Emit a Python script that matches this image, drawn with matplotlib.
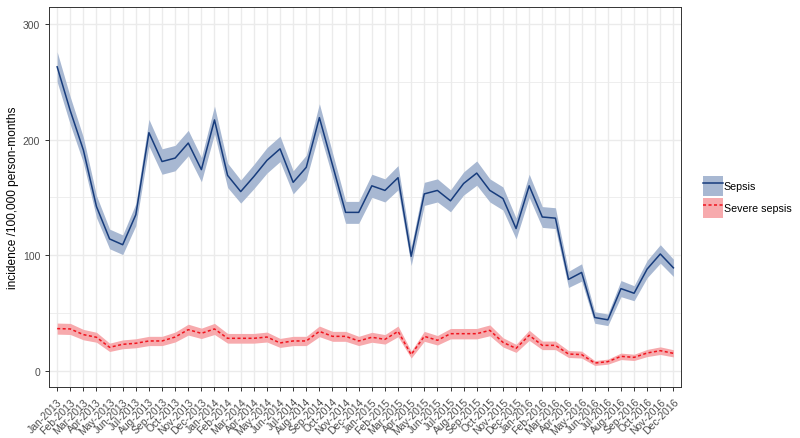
#!/usr/bin/env python3
"""
Monthly incidence of sepsis and severe sepsis, Jan-2013 to Dec-2016.
Line with confidence ribbon per series, ggplot theme_bw look.
"""

import matplotlib
matplotlib.use('Agg')
import matplotlib.pyplot as plt
from matplotlib.lines import Line2D
from matplotlib.patches import Patch
import numpy as np

# Tick labels: one per month
MONTHS = ['Jan', 'Feb', 'Mar', 'Apr', 'May', 'Jun',
          'Jul', 'Aug', 'Sep', 'Oct', 'Nov', 'Dec']
YEARS = [2013, 2014, 2015, 2016]
month_labels = [f'{m}-{y}' for y in YEARS for m in MONTHS]

# Sepsis incidence (per 100,000 person-months) and ribbon half-width
sepsis = [263, 225, 191, 142, 114, 109, 135, 206, 181, 184, 197, 174,
          217, 169, 155, 168, 182, 192, 163, 176, 219, 178, 137, 137,
          160, 156, 167, 99, 153, 156, 147, 162, 171, 156, 149, 123,
          160, 133, 132, 79, 85, 46, 44, 71, 67, 88, 101, 89]
sepsis_hw = [13, 12, 11, 9.5, 8.5, 8.5, 9.5, 11.5, 11, 11, 11, 10.5,
             12, 10.5, 10, 10.5, 11, 11, 10, 10.5, 12, 10.5, 9.5, 9.5,
             10, 10, 10.5, 8, 10, 10, 9.5, 10, 10.5, 10, 10, 9,
             10, 9, 9, 7, 7.5, 5, 5, 7, 6.5, 7.5, 8, 7.5]

# Severe sepsis incidence and ribbon half-width
severe = [36.4, 36.1, 31.2, 28.9, 20.2, 22.8, 23.7, 25.7, 25.7, 29.1, 35.5, 32.3,
          36.1, 28.0, 28.0, 28.0, 29.1, 24.0, 25.7, 25.7, 34.0, 29.7, 29.7, 25.7,
          28.9, 27.1, 34.0, 13.9, 29.7, 26.3, 32.0, 32.0, 32.0, 34.9, 24.5, 19.3,
          30.6, 21.9, 21.9, 14.4, 13.9, 6.6, 7.8, 12.4, 11.5, 15.3, 17.3, 15.0]
severe_hw = [4.8, 4.8, 4.5, 4.3, 3.6, 3.8, 3.9, 4, 4, 4.3, 4.7, 4.5,
             4.8, 4.2, 4.2, 4.2, 4.3, 3.9, 4, 4, 4.6, 4.3, 4.3, 4,
             4.3, 4.1, 4.6, 3, 4.3, 4.1, 4.5, 4.5, 4.5, 4.7, 4, 3.5,
             4.4, 3.7, 3.7, 3, 3, 2.1, 2.2, 2.8, 2.7, 3.1, 3.3, 3.1]

SEPSIS_LINE = '#173C7C'
SEPSIS_FILL = '#A8B8D2'
SEVERE_LINE = '#F0141E'
SEVERE_FILL = '#F7AAAD'
GRID_COLOR = '#EBEBEB'
TEXT_GRAY = '#4D4D4D'
DASHES = (0, (2, 1.6))

plt.rcParams['font.family'] = ['Liberation Sans', 'DejaVu Sans']


def draw_series(ax, x, values, half_width, line_color, fill_color, linestyle):
    vals = np.asarray(values, dtype=float)
    hw = np.asarray(half_width, dtype=float)
    ax.fill_between(x, vals - hw, vals + hw, color=fill_color, linewidth=0, zorder=2)
    ax.plot(x, vals, color=line_color, linewidth=1.1, linestyle=linestyle, zorder=3)


def main():
    fig = plt.figure(figsize=(8.0, 4.39), dpi=100)
    ax = fig.add_axes([0.0616, 0.1155, 0.79, 0.8656])

    x = np.arange(len(month_labels))

    draw_series(ax, x, sepsis, sepsis_hw, SEPSIS_LINE, SEPSIS_FILL, '-')
    draw_series(ax, x, severe, severe_hw, SEVERE_LINE, SEVERE_FILL, DASHES)

    # Axes limits mimic ggplot expansion
    ax.set_xlim(-0.6, len(month_labels) - 0.4)
    ax.set_ylim(-14.4, 314.5)

    ax.set_xticks(x)
    ax.set_xticklabels(month_labels, rotation=45, ha='right', va='top',
                       rotation_mode='anchor', fontsize=7.5, color=TEXT_GRAY)
    ax.set_yticks([0, 100, 200, 300])
    ax.set_yticks([50, 150, 250], minor=True)
    ax.tick_params(axis='y', labelsize=7.5, labelcolor=TEXT_GRAY)
    ax.tick_params(axis='both', which='major', length=3, width=0.7, color='#333333')
    ax.tick_params(axis='y', which='minor', length=0)

    # Grid lines
    ax.grid(True, which='major', color=GRID_COLOR, linewidth=1.0, zorder=0)
    ax.grid(True, which='minor', axis='y', color=GRID_COLOR, linewidth=0.6, zorder=0)
    ax.set_axisbelow(True)

    for spine in ax.spines.values():
        spine.set_color('#333333')
        spine.set_linewidth(0.7)

    # y label placed in figure coords, centred on the panel
    fig.text(13.5 / 800, 0.549, 'incidence /100,000 person-months', rotation=90,
             ha='center', va='center', fontsize=8.6, color='black')

    # Legend: ribbon colour behind the line, no title
    handles = [
        (Patch(facecolor=SEPSIS_FILL, edgecolor='none'),
         Line2D([], [], color=SEPSIS_LINE, linewidth=1.1)),
        (Patch(facecolor=SEVERE_FILL, edgecolor='none'),
         Line2D([], [], color=SEVERE_LINE, linewidth=1.1, linestyle=DASHES)),
    ]
    fig.legend(handles, ['Sepsis', 'Severe sepsis'], loc='center left',
               bbox_to_anchor=(0.879, 0.549), frameon=False, fontsize=7.7,
               handlelength=1.87, handleheight=2.5, handletextpad=0.05,
               labelspacing=0.19, borderpad=0, borderaxespad=0)

    fig.savefig('out.png', dpi=100)
    plt.close(fig)


if __name__ == '__main__':
    main()
